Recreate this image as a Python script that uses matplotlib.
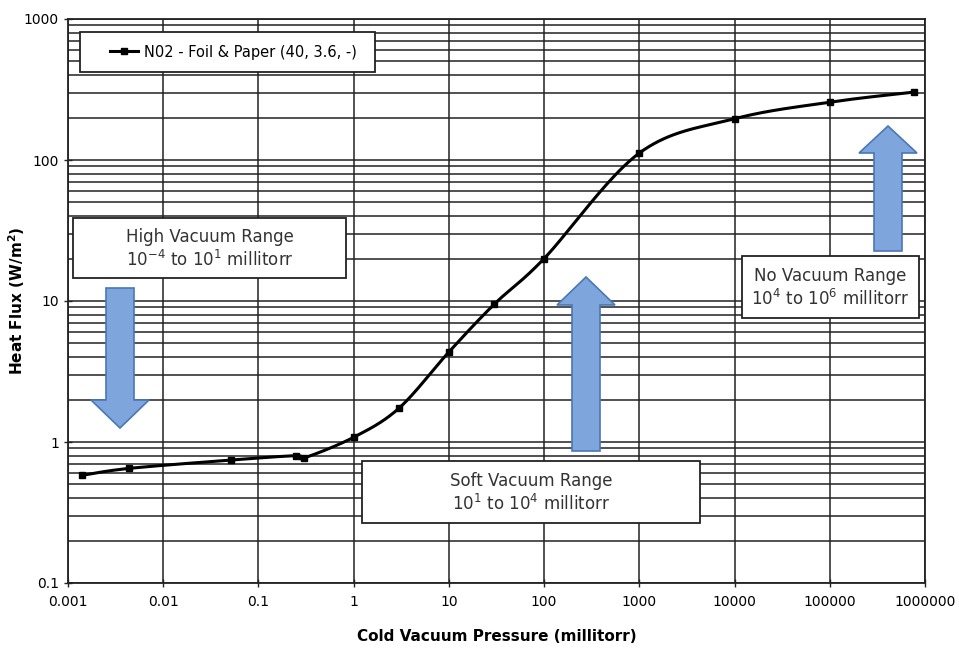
import matplotlib
matplotlib.use('Agg')
import matplotlib.pyplot as plt
import numpy as np
from matplotlib.patches import Polygon, Rectangle
from matplotlib.lines import Line2D


# Data
pressure = [0.0014, 0.0044, 0.052, 0.25, 0.3, 1.0, 3.0, 10.0, 30.0, 100.0, 1000.0, 10000.0, 100000.0, 760000.0]
heat_flux = [0.58, 0.65, 0.745, 0.80, 0.77, 1.08, 1.74, 4.35, 9.5, 20.0, 112.0, 196.0, 257.0, 303.0]
series_name = 'N02 - Foil & Paper (40, 3.6, -)'

x_ticks = [1e-3, 1e-2, 1e-1, 1e0, 1e1, 1e2, 1e3, 1e4, 1e5, 1e6]
x_tick_labels = ['0.001', '0.01', '0.1', '1', '10', '100', '1000', '10000', '100000', '1000000']
y_ticks = [0.1, 1, 10, 100, 1000]
y_tick_labels = ['0.1', '1', '10', '100', '1000']

W, H = 959, 649


# Перевод пикселей в координаты фигуры
def px(x, y):
    return x / W, 1 - y / H


# Сглаженная линия как в Excel (Безье с натяжением 1/6) в лог-координатах
def smooth(xs, ys, n=40):
    p = np.column_stack([np.log10(xs), np.log10(ys)])
    p = np.vstack([p[0], p, p[-1]])
    out = []
    for i in range(1, len(p) - 2):
        p0, p1, p2, p3 = p[i - 1], p[i], p[i + 1], p[i + 2]
        c1 = p1 + (p2 - p0) / 6
        c2 = p2 - (p3 - p1) / 6
        t = np.linspace(0, 1, n)[:, None]
        seg = (1 - t) ** 3 * p1 + 3 * (1 - t) ** 2 * t * c1 + 3 * (1 - t) * t ** 2 * c2 + t ** 3 * p2
        out.append(seg)
    out = np.vstack(out)
    return 10 ** out[:, 0], 10 ** out[:, 1]


fig = plt.figure(figsize=(W / 100, H / 100), dpi=100)
l, b = px(68, 583)
r, t = px(925, 19)
ax = fig.add_axes([l, b, r - l, t - b])

ax.set_xscale('log')
ax.set_yscale('log')
ax.set_xlim(1e-3, 1e6)
ax.set_ylim(0.1, 1000)

ax.set_xticks(x_ticks)
ax.set_xticklabels(x_tick_labels)
ax.set_yticks(y_ticks)
ax.set_yticklabels(y_tick_labels)
ax.xaxis.set_minor_locator(matplotlib.ticker.NullLocator())
ax.yaxis.set_minor_locator(matplotlib.ticker.LogLocator(base=10, subs=np.arange(2, 10)))
ax.tick_params(axis='both', which='major', labelsize=10, length=6, width=1, direction='inout', color='#222222')
ax.tick_params(axis='y', which='minor', length=0)
ax.tick_params(axis='x', pad=6)

ax.grid(True, which='major', axis='both', color='#222222', linewidth=1.1)
ax.grid(True, which='minor', axis='y', color='#222222', linewidth=1.1)
ax.set_axisbelow(True)
for s in ax.spines.values():
    s.set_color('#222222')
    s.set_linewidth(1.3)

sx, sy = smooth(pressure, heat_flux)
ax.plot(sx, sy, color='black', linewidth=2.2, zorder=3)
ax.plot(pressure, heat_flux, linestyle='none', marker='s', markersize=5, color='black', zorder=4)

ax.set_xlabel('Cold Vacuum Pressure (millitorr)', fontsize=11, fontweight='bold')
ax.set_ylabel('Heat Flux (W/m$^\\mathbf{2}$)', fontsize=11, fontweight='bold')
ax.xaxis.set_label_coords(0.5, (583 - 629) / 564)
ax.yaxis.set_label_coords((27 - 68) / 857, 0.5)

# Легенда: рамка отдельно, запись поверх неё
a = px(80, 72)
c = px(375, 32)
fig.add_artist(Rectangle(a, c[0] - a[0], c[1] - a[1], transform=fig.transFigure,
                         facecolor='white', edgecolor='#222222', linewidth=1.3, zorder=5))
handle = Line2D([], [], color='black', linewidth=2.2, marker='s', markersize=5)
leg = fig.legend([handle], [series_name], loc='center left', bbox_to_anchor=px(110, 52),
                 borderaxespad=0, borderpad=0, fontsize=10.5, frameon=False,
                 handlelength=1.9, handletextpad=0.4)
leg.set_zorder(6)


# Текстовые блоки
def text_box(x0, y0, x1, y1, lines):
    a = px(x0, y1)
    b_ = px(x1, y0)
    fig.add_artist(Rectangle(a, b_[0] - a[0], b_[1] - a[1], transform=fig.transFigure,
                             facecolor='white', edgecolor='#222222', linewidth=1.3, zorder=5))
    cx = (x0 + x1) / 2
    h = (y1 - y0)
    fig.text(*px(cx, y0 + h * 0.32), lines[0], ha='center', va='center', fontsize=12, color='#333333', zorder=6)
    fig.text(*px(cx, y0 + h * 0.70), lines[1], ha='center', va='center', fontsize=12, color='#333333', zorder=6)


text_box(73, 218, 346, 278, ['High Vacuum Range', r'10$^{-4}$ to 10$^{1}$ millitorr'])
text_box(362, 461, 700, 523, ['Soft Vacuum Range', r'10$^{1}$ to 10$^{4}$ millitorr'])
text_box(742, 256, 919, 318, ['No Vacuum Range', r'10$^{4}$ to 10$^{6}$ millitorr'])


# Стрелки
def arrow(cx, tail, base, tip, shaft=14, head=29):
    pts = [(cx - shaft, tail), (cx + shaft, tail), (cx + shaft, base), (cx + head, base),
           (cx, tip), (cx - head, base), (cx - shaft, base)]
    fig.add_artist(Polygon([px(x, y) for x, y in pts], closed=True, transform=fig.transFigure,
                           facecolor='#7EA6DC', edgecolor='#4A78B4', linewidth=1.2, zorder=5))


arrow(120, 288, 400, 428)
arrow(586, 451, 305, 277)
arrow(888, 251, 153, 126)

fig.savefig('out.png', dpi=100)
